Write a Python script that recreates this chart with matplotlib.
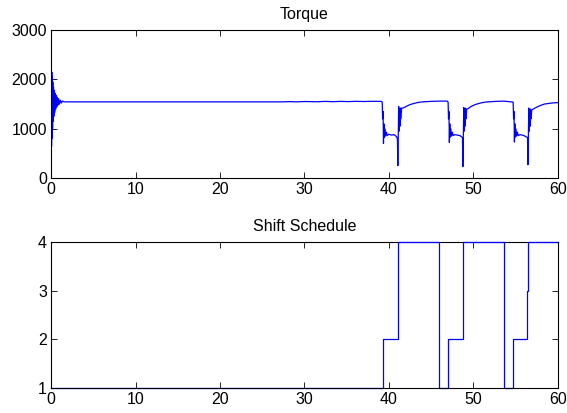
import matplotlib
matplotlib.use("Agg")
import matplotlib.pyplot as plt

plt.rcParams['font.family'] = ['Liberation Sans', 'DejaVu Sans']

# ---- Torque data (time [s], torque) ----
t_start = [0.0, 0.03, 0.06, 0.09, 0.12, 0.15, 0.18, 0.21, 0.25, 0.29, 0.33, 0.38,
           0.43, 0.48, 0.54, 0.60, 0.67, 0.74, 0.82, 0.90, 1.00, 1.10, 1.22, 1.35, 1.6]
q_start = [900, 2250, 640, 2150, 800, 2050, 1000, 1950, 1150, 1850, 1250, 1780,
           1330, 1720, 1390, 1680, 1440, 1640, 1480, 1610, 1500, 1580, 1520, 1560, 1545]

t_cruise = [5.0, 15.0, 27.5, 28.3, 29.0, 30.0, 31.5, 32.5, 33.4, 34.3, 35.2, 36.0, 37.0, 38.0, 39.1]
q_cruise = [1545, 1545, 1545, 1550, 1545, 1552, 1547, 1555, 1548, 1555, 1550, 1556, 1552, 1556, 1555]

t_dip1 = [39.2, 39.25, 39.3, 39.35, 39.4, 39.45, 39.5, 39.6, 39.7, 39.8, 40.0, 40.3, 40.6,
          40.9, 41.0, 41.05, 41.1, 41.15, 41.2, 41.25, 41.3, 41.35, 41.42, 41.5, 41.7,
          42.0, 42.5, 43.0, 43.5, 44.0, 45.0, 46.0, 46.9]
q_dip1 = [1540, 1200, 1350, 700, 1100, 820, 1000, 850, 930, 860, 890, 870, 880,
          840, 790, 250, 900, 1450, 950, 1400, 1050, 1420, 1200, 1420, 1420,
          1450, 1490, 1515, 1535, 1545, 1555, 1560, 1560]

t_dip2 = [47.0, 47.05, 47.1, 47.15, 47.2, 47.25, 47.3, 47.4, 47.5, 47.6, 47.8, 48.1, 48.4,
          48.7, 48.75, 48.8, 48.85, 48.9, 48.95, 49.0, 49.05, 49.12, 49.2, 49.4,
          49.7, 50.2, 50.7, 51.2, 51.7, 52.7, 53.6]
q_dip2 = [1540, 1200, 1350, 720, 1100, 830, 1000, 850, 930, 860, 880, 870, 860,
          820, 230, 900, 1430, 950, 1380, 1050, 1420, 1200, 1400, 1410,
          1450, 1490, 1515, 1535, 1545, 1555, 1560]

t_dip3 = [54.7, 54.75, 54.8, 54.85, 54.9, 54.95, 55.0, 55.1, 55.2, 55.3, 55.5, 55.8, 56.1,
          56.4, 56.45, 56.5, 56.55, 56.6, 56.65, 56.7, 56.75, 56.82, 56.9, 57.1,
          57.4, 57.9, 58.4, 59.0, 59.5, 60.0]
q_dip3 = [1540, 1200, 1350, 730, 1100, 830, 1000, 850, 930, 860, 880, 870, 850,
          820, 270, 880, 1420, 950, 1370, 1050, 1400, 1200, 1380, 1400,
          1430, 1470, 1500, 1515, 1525, 1530]

time_torque = t_start + t_cruise + t_dip1 + t_dip2 + t_dip3
torque = q_start + q_cruise + q_dip1 + q_dip2 + q_dip3

# ---- Shift schedule (step changes) ----
shift_times = [0, 39.25, 41.1, 45.95, 47.0, 48.8, 53.65, 54.7, 56.3, 56.5, 60]
shift_gears = [1, 2, 4, 1, 2, 4, 1, 2, 3, 4, 4]

x_ticks = [0, 10, 20, 30, 40, 50, 60]
torque_ticks = [0, 1000, 2000, 3000]
gear_ticks = [1, 2, 3, 4]

fig = plt.figure(figsize=(5.67, 4.13), dpi=100)
ax1 = fig.add_axes([0.090, 0.569, 0.894, 0.358])
ax2 = fig.add_axes([0.090, 0.0605, 0.894, 0.353])

line_color = (0, 0, 1)

ax1.plot(time_torque, torque, color=line_color, linewidth=0.9)
ax1.set_xlim(0, 60)
ax1.set_ylim(0, 3000)
ax1.set_xticks(x_ticks)
ax1.set_yticks(torque_ticks)
ax1.set_title('Torque', fontsize=11.5, pad=8)

ax2.plot(shift_times, shift_gears, color=line_color, linewidth=0.9,
         drawstyle='steps-post', clip_on=False, zorder=2)
ax2.spines['top'].set_zorder(1)
ax2.set_xlim(0, 60)
ax2.set_ylim(1, 4)
ax2.set_xticks(x_ticks)
ax2.set_yticks(gear_ticks)
ax2.set_title('Shift Schedule', fontsize=11.5, pad=8)

for ax in (ax1, ax2):
    ax.tick_params(direction='in', top=True, right=True, labelsize=11.5,
                   length=4, width=0.6, pad=3)
    for s in ax.spines.values():
        s.set_linewidth(0.8)

fig.savefig('out.png', dpi=100)
